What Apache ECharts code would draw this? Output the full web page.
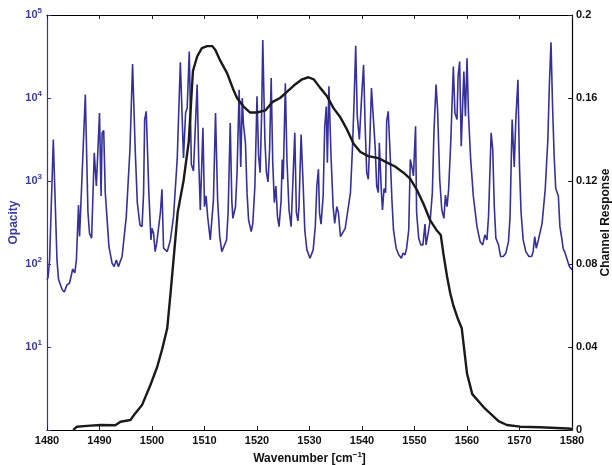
<!DOCTYPE html>
<html>
<head>
<meta charset="utf-8">
<script src="https://cdn.jsdelivr.net/npm/echarts@6/dist/echarts.min.js"></script>
<style>
html,body{margin:0;padding:0;background:#fff;}
#c{width:612px;height:465px;}
</style>
</head>
<body>
<div id="c"></div>
<script>
// ---- data ----
const xTicks = [1480, 1490, 1500, 1510, 1520, 1530, 1540, 1550, 1560, 1570, 1580];
const opacityExponents = [1, 2, 3, 4, 5];
const responseTicks = [0, 0.04, 0.08, 0.12, 0.16, 0.2];

const opacityX = [
1480.0,1480.2,1480.5,1481.2,1481.9,1482.2,1482.4,1482.9,1483.3,1483.8,1484.3,1484.5,1484.9,1485.3,1485.6,1486.0,1486.2,1486.4,1487.3,1487.8,
1488.1,1488.5,1489.0,1489.4,1490.0,1490.3,1490.5,1490.8,1491.1,1491.8,1492.4,1492.8,1493.2,1493.6,1494.3,1495.1,1495.8,1496.3,1496.8,1497.2,
1497.7,1498.1,1498.4,1498.6,1498.9,1499.4,1499.8,1500.0,1500.3,1500.6,1500.9,1501.2,1501.6,1501.9,1502.2,1502.9,1503.5,1504.1,1504.8,1505.4,
1506.0,1506.4,1506.7,1507.1,1507.5,1507.9,1508.6,1508.9,1509.2,1509.7,1510.0,1510.3,1510.6,1511.1,1511.4,1511.7,1512.1,1512.5,1512.9,1513.3,
1513.6,1514.2,1514.5,1514.9,1515.2,1515.4,1515.9,1516.2,1516.6,1516.9,1517.2,1517.4,1517.8,1518.1,1518.4,1518.9,1519.2,1519.6,1520.0,1520.3,
1520.6,1520.9,1521.1,1521.5,1521.8,1522.1,1522.4,1522.7,1523.0,1523.3,1523.6,1523.9,1524.2,1524.6,1524.8,1525.0,1525.4,1525.7,1526.1,1526.5,
1526.8,1527.2,1527.5,1527.8,1528.0,1528.4,1528.8,1529.1,1529.5,1530.1,1530.7,1531.1,1531.4,1531.7,1531.9,1532.2,1532.6,1532.9,1533.2,1533.4,
1533.7,1534.1,1534.5,1534.8,1535.2,1535.5,1535.9,1536.2,1536.8,1537.1,1537.8,1538.2,1538.5,1538.8,1539.1,1539.5,1539.9,1540.3,1540.6,1540.9,
1541.2,1541.5,1541.8,1542.1,1542.5,1542.8,1543.1,1543.3,1543.7,1543.9,1544.2,1544.5,1544.7,1545.0,1545.4,1545.7,1546.0,1546.5,1547.0,1547.5,
1547.8,1548.2,1548.5,1548.9,1549.2,1549.6,1549.8,1550.2,1550.4,1550.8,1551.2,1551.6,1552.0,1552.2,1552.6,1553.0,1553.4,1553.7,1554.1,1554.4,
1554.8,1555.2,1555.6,1555.9,1556.2,1556.5,1556.9,1557.4,1557.7,1558.1,1558.3,1558.6,1558.9,1559.2,1559.4,1559.7,1560.0,1560.3,1560.7,1561.2,
1561.9,1562.5,1563.0,1563.4,1563.8,1564.1,1564.6,1564.9,1565.2,1565.5,1566.0,1566.4,1566.9,1567.4,1567.9,1568.2,1568.6,1569.0,1569.3,1569.7,
1570.0,1570.3,1570.7,1571.2,1571.8,1572.3,1572.6,1572.9,1573.2,1573.6,1574.3,1574.9,1575.4,1575.7,1576.0,1576.3,1576.6,1576.9,1577.4,1577.7,
1578.1,1578.3,1578.7,1579.1,1579.5,1579.8,1580.0
];
const opacityY = [
65,69,112,3160,112,65,63,49,46,56,59,56,87,78,112,513,214,427,11000,417,
234,204,2190,871,6600,661,3800,4070,724,162,102,93,112,93,123,372,2400,25700,2400,550,
295,282,724,5500,6900,724,195,269,234,141,178,178,417,794,155,141,195,372,1820,26900,
1900,6600,7600,36300,1585,1320,14500,1740,447,4370,490,661,372,195,204,589,6600,589,214,141,
135,195,417,5000,589,355,490,1260,12600,1480,10000,5000,2880,724,339,245,309,871,10500,2000,
1260,7200,50000,3160,1260,977,2400,17400,1660,550,871,372,282,589,1820,1050,15100,1820,447,282,
871,3800,417,331,490,3630,871,257,148,117,148,282,871,1380,417,302,661,4570,7900,1660,
13800,2000,490,309,490,417,214,204,269,282,724,2630,9550,42700,6030,3160,9550,25100,4570,1260,
1050,3160,13200,12600,2630,871,724,2880,724,447,813,724,5250,6900,1820,589,257,155,129,117,
135,129,155,257,1820,1380,1150,4570,417,204,170,170,302,170,234,339,724,3800,14500,7200,
1050,447,355,676,490,794,2880,24000,6600,5500,18200,27500,2630,2750,20900,6030,30200,6030,1820,661,
282,186,170,224,195,372,3800,2400,490,204,170,123,123,135,186,372,5500,1480,5500,16600,
1480,417,195,141,123,123,141,214,155,195,309,794,3160,15100,46800,7900,2000,813,661,282,
195,155,135,112,93,89,85
];

const responseX = [
1485.0,1485.7,1487.6,1490.2,1493.0,1494.0,1495.9,1496.8,1498.1,1499.7,1501.0,1501.9,1502.9,1503.5,1504.1,1504.9,1506.0,1507.0,1507.8,1508.6,
1509.5,1510.5,1511.5,1512.1,1513.0,1514.3,1515.5,1516.2,1517.4,1518.7,1520.0,1521.6,1522.9,1524.4,1525.7,1527.0,1528.6,1529.8,1530.8,1532.0,
1533.3,1534.6,1535.8,1537.1,1538.4,1539.7,1541.2,1543.1,1544.7,1546.3,1547.9,1549.2,1550.4,1551.7,1553.0,1554.3,1555.0,1555.5,1556.2,1556.8,
1557.4,1558.2,1559.0,1560.0,1561.0,1563.4,1566.0,1567.6,1570.1,1573.9,1579.2,1580.0
];
const responseY = [
0,0.0016,0.002,0.0024,0.0023,0.004,0.0048,0.008,0.012,0.0217,0.0305,0.0386,0.049,0.065,0.082,0.105,0.12,0.139,0.173,0.18,
0.184,0.185,0.185,0.183,0.178,0.172,0.164,0.16,0.156,0.153,0.153,0.154,0.158,0.16,0.163,0.166,0.169,0.17,0.169,0.165,
0.161,0.155,0.151,0.145,0.138,0.134,0.132,0.131,0.129,0.127,0.124,0.121,0.116,0.109,0.101,0.096,0.094,0.085,0.074,0.066,
0.06,0.054,0.049,0.0273,0.0173,0.0104,0.0043,0.0024,0.0016,0.0013,0.0007,0.0005
];

// ---- chart ----
const BLUE = '#35309b';
const BLUE_TXT = '#3b3ba3';
const FONT = 'Liberation Sans, Arial, sans-serif';

const chart = echarts.init(document.getElementById('c'), null, {renderer: 'canvas'});
chart.setOption({
  animation: false,
  backgroundColor: '#fff',
  grid: {left: 47, right: 40, top: 15, bottom: 35, containLabel: false, outerBoundsMode: 'none'},
  xAxis: [{
    type: 'value', min: xTicks[0], max: xTicks[xTicks.length - 1], interval: 10,
    position: 'bottom',
    axisLine: {lineStyle: {color: '#000', width: 1.2}},
    axisTick: {inside: true, length: 4, lineStyle: {color: '#222'}},
    axisLabel: {color: '#111', fontFamily: FONT, fontWeight: 'bold', fontSize: 11, margin: 5,
      formatter: function (v) { return String(v); }},
    splitLine: {show: false},
    name: 'Wavenumber [cm{sup|−1}]',
    nameLocation: 'middle', nameGap: 21, nameMoveOverlap: false,
    nameTextStyle: {color: '#111', fontFamily: FONT, fontWeight: 'bold', fontSize: 12,
      rich: {sup: {fontSize: 8, fontWeight: 'bold', fontFamily: FONT, color: '#111', padding: [0, 0, 8, 0]}}}
  }, {
    type: 'value', min: xTicks[0], max: xTicks[xTicks.length - 1], interval: 10,
    position: 'top',
    axisLine: {lineStyle: {color: '#000', width: 1.2}},
    axisTick: {inside: true, length: 4, lineStyle: {color: '#222'}},
    axisLabel: {show: false},
    splitLine: {show: false}
  }],
  yAxis: [{
    type: 'log', logBase: 10, min: Math.pow(10, 0), max: Math.pow(10, opacityExponents[opacityExponents.length - 1]),
    position: 'left',
    axisLine: {show: true, lineStyle: {color: BLUE, width: 1.2}},
    axisTick: {show: true, inside: true, length: 4, lineStyle: {color: BLUE}},
    splitLine: {show: false},
    axisLabel: {
      margin: 5,
      formatter: function (v) {
        const e = Math.round(Math.log10(v));
        if (opacityExponents.indexOf(e) < 0) return '';
        return '{b|10}{s|' + e + '}';
      },
      rich: {
        b: {fontSize: 11, fontWeight: 'bold', fontFamily: FONT, color: BLUE_TXT},
        s: {fontSize: 8, fontWeight: 'bold', fontFamily: FONT, color: BLUE_TXT, padding: [0, 0, 8, 0]}
      }
    },
    name: 'Opacity', nameLocation: 'middle', nameGap: 27, nameRotate: 90, nameMoveOverlap: false,
    nameTextStyle: {color: BLUE_TXT, fontFamily: FONT, fontWeight: 'bold', fontSize: 12}
  }, {
    type: 'value', min: responseTicks[0], max: responseTicks[responseTicks.length - 1], interval: 0.04,
    position: 'right',
    axisLine: {show: true, lineStyle: {color: '#000', width: 1.2}},
    axisTick: {show: true, inside: true, length: 4, lineStyle: {color: '#222'}},
    splitLine: {show: false},
    axisLabel: {color: '#111', fontFamily: FONT, fontWeight: 'bold', fontSize: 11, margin: 4,
      formatter: function (v) { return String(+v.toFixed(2)); }},
    name: 'Channel Response', nameLocation: 'middle', nameGap: 28, nameRotate: 90, nameMoveOverlap: false,
    nameTextStyle: {color: '#111', fontFamily: FONT, fontWeight: 'bold', fontSize: 12}
  }],
  series: [{
    type: 'line', xAxisIndex: 0, yAxisIndex: 0,
    data: opacityX.map((x, i) => [x, opacityY[i]]),
    showSymbol: false, symbol: 'none',
    lineStyle: {color: BLUE, width: 1.6},
    z: 2
  }, {
    type: 'line', xAxisIndex: 0, yAxisIndex: 1,
    data: responseX.map((x, i) => [x, responseY[i]]),
    showSymbol: false, symbol: 'none',
    lineStyle: {color: '#1a1a1a', width: 2.4},
    z: 3
  }]
});
</script>
</body>
</html>
